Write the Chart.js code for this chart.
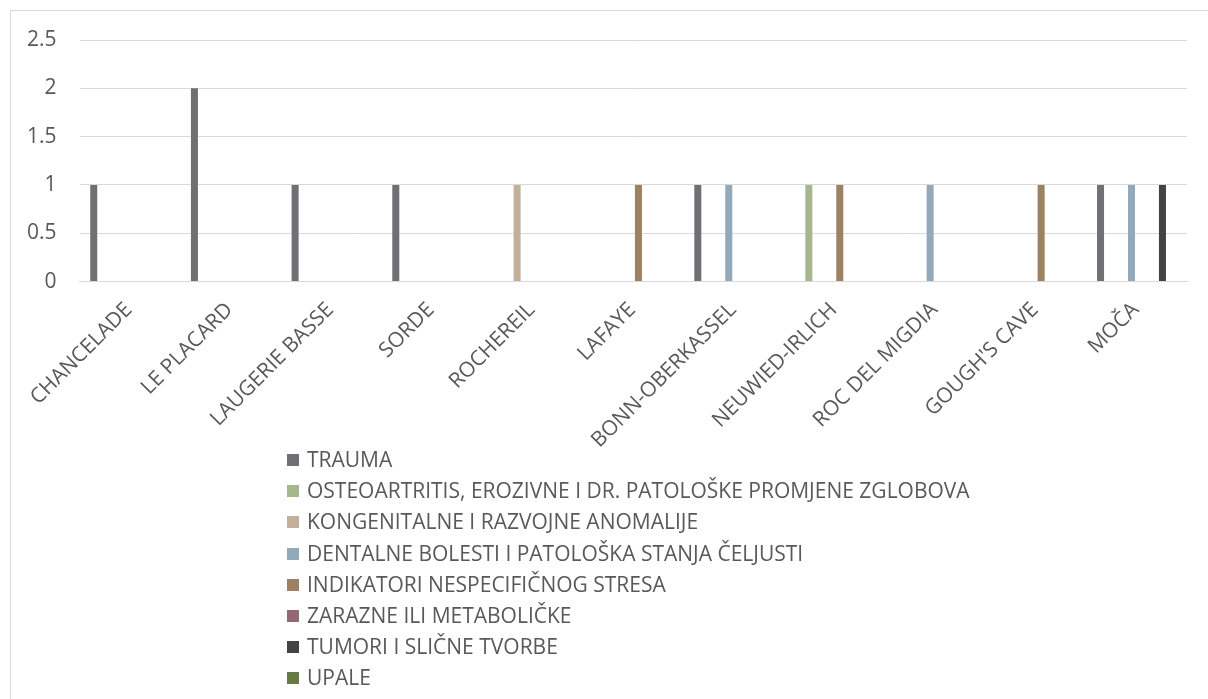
<!DOCTYPE html>
<html>
<head>
<meta charset="utf-8">
<script src="https://cdn.jsdelivr.net/npm/chart.js@4"></script>
<style>
    html, body { margin: 0; padding: 0; background: #fff; overflow: hidden; }
    #frame {
        position: absolute; left: 10px; top: 10px;
        width: 1400px; height: 900px;
        border: 1px solid #d9d9d9;
    }
    #wrap { position: absolute; left: 0; top: 0; width: 1208px; height: 699px; }
    #legend {
        position: absolute; left: 287px; top: 445px;
        font-family: 'Open Sans', sans-serif; font-size: 21px; color: #595959;
    }
    #legend div { height: 31.2px; line-height: 28px; white-space: nowrap; }
    #legend span.box {
        display: inline-block; width: 12px; height: 12px;
        margin-right: 8px; vertical-align: 1px;
    }
</style>
</head>
<body>
<div id="frame"></div>
<div id="wrap"><canvas id="chart"></canvas></div>
<div id="legend"></div>
<script>
// Sites (categories)
const sites = ['CHANCELADE', 'LE PLACARD', 'LAUGERIE BASSE', 'SORDE', 'ROCHEREIL', 'LAFAYE',
    'BONN-OBERKASSEL', 'NEUWIED-IRLICH', 'ROC DEL MIGDIA', "GOUGH'S CAVE", 'MOČA'];

// Series values, one per site
const trauma        = [1, 2, 1, 1, 0, 0, 1, 0, 0, 0, 1];
const osteoartritis = [0, 0, 0, 0, 0, 0, 0, 1, 0, 0, 0];
const kongenitalne  = [0, 0, 0, 0, 1, 0, 0, 0, 0, 0, 0];
const dentalne      = [0, 0, 0, 0, 0, 0, 1, 0, 1, 0, 1];
const indikatori    = [0, 0, 0, 0, 0, 1, 0, 1, 0, 1, 0];
const zarazne       = [0, 0, 0, 0, 0, 0, 0, 0, 0, 0, 0];
const tumori        = [0, 0, 0, 0, 0, 0, 0, 0, 0, 0, 1];
const upale         = [0, 0, 0, 0, 0, 0, 0, 0, 0, 0, 0];

const seriesNames = [
    'TRAUMA',
    'OSTEOARTRITIS, EROZIVNE I DR. PATOLOŠKE PROMJENE ZGLOBOVA',
    'KONGENITALNE I RAZVOJNE ANOMALIJE',
    'DENTALNE BOLESTI I PATOLOŠKA STANJA ČELJUSTI',
    'INDIKATORI NESPECIFIČNOG STRESA',
    'ZARAZNE ILI METABOLIČKE',
    'TUMORI I SLIČNE TVORBE',
    'UPALE'
];
const seriesValues = [trauma, osteoartritis, kongenitalne, dentalne, indikatori, zarazne, tumori, upale];
const seriesColors = ['#706f74', '#a6b88b', '#c2b098', '#91a9ba', '#9c8163', '#946973', '#434345', '#667a48'];

const yTicks = [0, 0.5, 1, 1.5, 2, 2.5];

const textColor = '#595959';
const gridColor = '#d9d9d9';
const font = { family: "'Open Sans', sans-serif", size: 21 };

const datasets = seriesNames.map((name, i) => ({
    label: name,
    data: seriesValues[i],
    backgroundColor: seriesColors[i],
    borderWidth: 0,
    categoryPercentage: 0.82,
    barPercentage: 0.68
}));

const chart = new Chart(document.getElementById('chart'), {
    type: 'bar',
    data: { labels: sites, datasets: datasets },
    options: {
        responsive: true,
        maintainAspectRatio: false,
        animation: false,
        layout: { padding: { left: 4, right: 21, top: 40, bottom: 230 } },
        plugins: {
            legend: { display: false },
            tooltip: { enabled: false }
        },
        scales: {
            x: {
                grid: { display: false, drawTicks: false },
                border: { display: true, color: gridColor, width: 1 },
                ticks: {
                    color: textColor, font: font,
                    minRotation: 45, maxRotation: 45, padding: 16,
                    labelOffset: -1, autoSkip: false
                }
            },
            y: {
                min: 0, max: 2.5,
                afterBuildTicks: axis => { axis.ticks = yTicks.map(v => ({ value: v })); },
                grid: { color: gridColor, lineWidth: 1, drawTicks: false },
                border: { display: false },
                ticks: {
                    color: textColor, font: font, padding: 23,
                    callback: v => String(v)
                }
            }
        }
    }
});

// Vertical legend list under the chart
const legendEl = document.getElementById('legend');
datasets.forEach(ds => {
    const row = document.createElement('div');
    const box = document.createElement('span');
    box.className = 'box';
    box.style.background = ds.backgroundColor;
    row.appendChild(box);
    row.appendChild(document.createTextNode(ds.label));
    legendEl.appendChild(row);
});
</script>
</body>
</html>
